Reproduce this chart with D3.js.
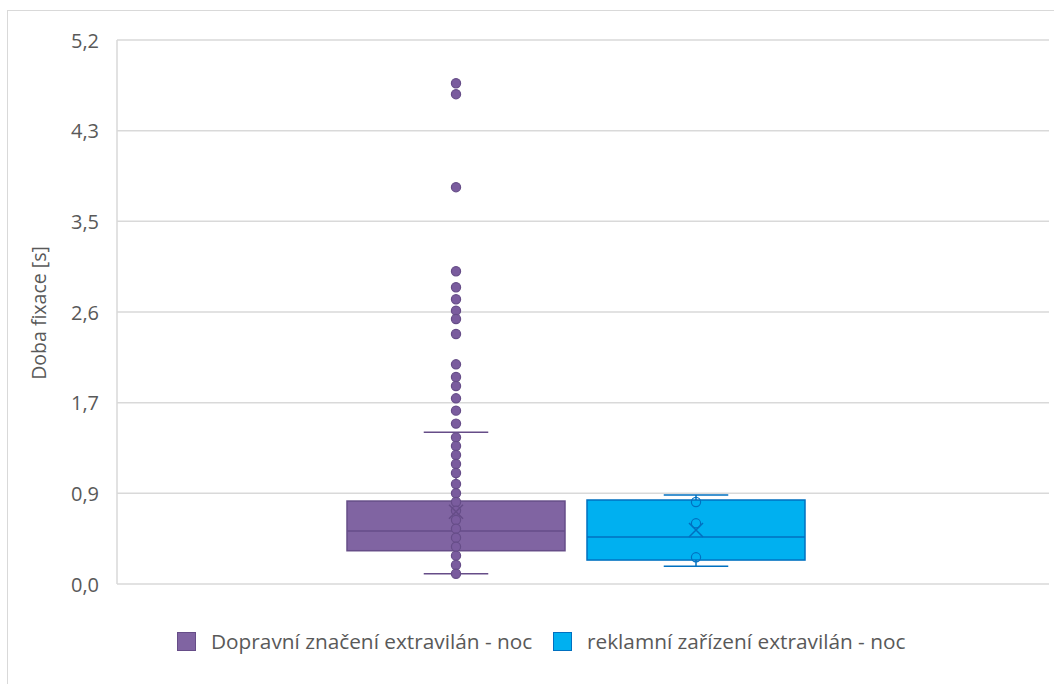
<!DOCTYPE html>
<html>
<head>
<meta charset="utf-8">
<script src="https://cdn.jsdelivr.net/npm/d3@7"></script>
<style>
  html, body { margin: 0; padding: 0; background: #fff; }
  svg { display: block; font-family: "Open Sans", "Noto Sans", sans-serif; }
</style>
</head>
<body>
<svg id="chart" width="1054" height="684"></svg>
<script>
// ---- data ----
const seriesNames = ["Dopravní značení extravilán - noc", "reklamní zařízení extravilán - noc"];
const seriesFill = ["#8064A2", "#00B0F0"];
const seriesStroke = ["#664D88", "#0070C0"];
const q1Values = [0.318, 0.229];
const medianValues = [0.507, 0.449];
const q3Values = [0.793, 0.803];
const whiskerLow = [0.098, 0.169];
const whiskerHigh = [1.450, 0.851];
const meanValues = [0.691, 0.516];
const pointsDopravni = [4.787, 4.682, 3.793, 2.990, 2.837, 2.722, 2.613, 2.533, 2.390, 2.100,
  1.979, 1.893, 1.775, 1.657, 1.533, 1.402, 1.319, 1.233, 1.147, 1.061, 0.956, 0.867,
  0.784, 0.701, 0.612, 0.529, 0.443, 0.357, 0.271, 0.182, 0.098];
const pointsReklamni = [0.784, 0.580, 0.255];
const yMax = 5.2;
const tickValues = d3.range(0, 7).map(i => i * yMax / 6);
const yTitle = "Doba fixace [s]";

// ---- layout ----
const svg = d3.select("#chart");
const plot = { left: 117, right: 1049, top: 40, bottom: 584 };

// outer chart border
svg.append("rect").attr("x", 7.5).attr("y", 10.5).attr("width", 1060).attr("height", 700)
  .attr("fill", "none").attr("stroke", "#d9d9d9").attr("stroke-width", 1);

const y = d3.scaleLinear().domain([0, yMax]).range([plot.bottom, plot.top]);
const x = d3.scaleBand().domain(seriesNames).range([347, 805]).paddingInner(22 / 240).paddingOuter(0);

// gridlines
svg.append("g").selectAll("line").data(tickValues).join("line")
  .attr("x1", plot.left).attr("x2", plot.right)
  .attr("y1", d => y(d)).attr("y2", d => y(d))
  .attr("stroke", "#d9d9d9").attr("stroke-width", 1.5);

// left spine
svg.append("line").attr("x1", plot.left).attr("x2", plot.left)
  .attr("y1", plot.top).attr("y2", plot.bottom)
  .attr("stroke", "#d9d9d9").attr("stroke-width", 1.5);

// y axis labels
const fmt = v => d3.format(".1f")(v).replace(".", ",");
const yAxis = d3.axisLeft(y).tickValues(tickValues).tickFormat(fmt).tickSize(0).tickPadding(0);
const gAxis = svg.append("g").attr("transform", `translate(99,0)`).call(yAxis);
gAxis.select(".domain").remove();
gAxis.selectAll("text").attr("fill", "#595959").style("font-size", "20px")
  .style("font-family", "'Open Sans', sans-serif").attr("dy", "0.36em");

// y title
svg.append("text").attr("transform", `translate(39,313) rotate(-90)`)
  .attr("text-anchor", "middle").attr("dy", "0.35em")
  .attr("fill", "#595959").style("font-size", "19.5px").text(yTitle);

// boxes
const allPoints = [pointsDopravni, pointsReklamni];
seriesNames.forEach((name, i) => {
  const g = svg.append("g");
  const x0 = x(name), bw = x.bandwidth(), cx = x0 + bw / 2;
  const capHalf = bw * 0.148;
  const fill = seriesFill[i], stroke = seriesStroke[i];
  // whiskers
  g.append("line").attr("x1", cx).attr("x2", cx).attr("y1", y(whiskerHigh[i])).attr("y2", y(q3Values[i]))
    .attr("stroke", stroke).attr("stroke-width", 1.5);
  g.append("line").attr("x1", cx).attr("x2", cx).attr("y1", y(q1Values[i])).attr("y2", y(whiskerLow[i]))
    .attr("stroke", stroke).attr("stroke-width", 1.5);
  [whiskerHigh[i], whiskerLow[i]].forEach(v => {
    g.append("line").attr("x1", cx - capHalf).attr("x2", cx + capHalf).attr("y1", y(v)).attr("y2", y(v))
      .attr("stroke", stroke).attr("stroke-width", 1.5);
  });
  // box
  g.append("rect").attr("x", x0).attr("y", y(q3Values[i]))
    .attr("width", bw).attr("height", y(q1Values[i]) - y(q3Values[i]))
    .attr("fill", fill).attr("stroke", stroke).attr("stroke-width", 1.5);
  g.append("line").attr("x1", x0).attr("x2", x0 + bw).attr("y1", y(medianValues[i])).attr("y2", y(medianValues[i]))
    .attr("stroke", stroke).attr("stroke-width", 1.5);
  // points
  g.append("g").selectAll("circle").data(allPoints[i]).join("circle")
    .attr("cx", cx).attr("cy", d => y(d)).attr("r", 4.6)
    .attr("fill", i === 0 ? "#7A5C9E" : "none")
    .attr("stroke", stroke).attr("stroke-width", 1.2);
  // mean X
  const my = y(meanValues[i]), s = 7;
  g.append("path").attr("d", `M${cx - s},${my - s}L${cx + s},${my + s}M${cx - s},${my + s}L${cx + s},${my - s}`)
    .attr("stroke", stroke).attr("stroke-width", 1.5).attr("fill", "none");
});

// legend
const legendX = [177, 553];
const legend = svg.append("g");
seriesNames.forEach((name, i) => {
  legend.append("rect").attr("x", legendX[i] + 0.5).attr("y", 632.5).attr("width", 18).attr("height", 18)
    .attr("fill", seriesFill[i]).attr("stroke", seriesStroke[i]).attr("stroke-width", 1);
  legend.append("text").attr("x", legendX[i] + 34).attr("y", 642).attr("dy", "0.35em")
    .attr("fill", "#595959").style("font-size", "20.8px").text(name);
});
</script>
</body>
</html>
